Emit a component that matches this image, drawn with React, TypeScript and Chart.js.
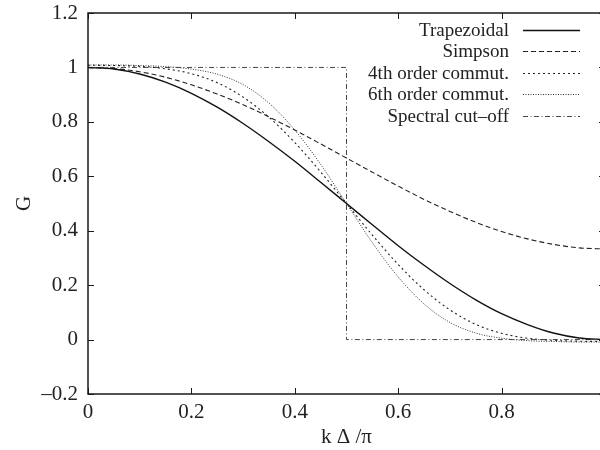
import React, { useEffect, useRef } from "react";
import { Chart, registerables } from "chart.js";

Chart.register(...registerables);

// ---- data ----
const kValues = [0, 0.05, 0.1, 0.15, 0.2, 0.25, 0.3, 0.35, 0.4, 0.45, 0.5, 0.55, 0.6, 0.65, 0.7, 0.75, 0.8, 0.85, 0.9, 0.95, 1];
const trapezoidal = [1, 0.994, 0.976, 0.946, 0.905, 0.854, 0.794, 0.727, 0.655, 0.578, 0.5, 0.422, 0.345, 0.273, 0.206, 0.146, 0.095, 0.055, 0.024, 0.006, 0];
const simpson = [1, 0.996, 0.984, 0.964, 0.936, 0.902, 0.863, 0.818, 0.770, 0.719, 0.667, 0.615, 0.564, 0.515, 0.471, 0.431, 0.397, 0.370, 0.350, 0.337, 0.333];
const commut4 = [1.008, 1.007, 1.004, 0.995, 0.977, 0.944, 0.891, 0.817, 0.724, 0.616, 0.5, 0.384, 0.276, 0.183, 0.109, 0.056, 0.023, 0.005, -0.003, -0.006, -0.007];
const commut6 = [1.009, 1.009, 1.007, 1.003, 0.994, 0.975, 0.937, 0.869, 0.770, 0.644, 0.5, 0.356, 0.230, 0.131, 0.063, 0.024, 0.005, -0.004, -0.007, -0.009, -0.009];
const cutoffK = [0, 0.5, 0.5, 1];
const cutoffG = [1, 1, 0, 0];

const seriesNames = ["Trapezoidal", "Simpson", "4th order commut.", "6th order commut.", "Spectral cut\u2013off"];

const xTicks = [0, 0.2, 0.4, 0.6, 0.8, 1];
const xTickLabels = ["0", "0.2", "0.4", "0.6", "0.8", "1"];
const yTicks = [-0.2, 0, 0.2, 0.4, 0.6, 0.8, 1, 1.2];
const yTickLabels = ["\u20130.2", "0", "0.2", "0.4", "0.6", "0.8", "1", "1.2"];

const FONT = "'Liberation Serif', 'DejaVu Serif', serif";

const framePlugin = {
  id: "gnuFrame",
  afterDatasetsDraw(chart: any) {
    const { ctx, chartArea: a, scales } = chart;
    const x = scales.x;
    const y = scales.y;
    ctx.save();
    ctx.strokeStyle = "#1a1a1a";
    ctx.lineWidth = 1.5;
    ctx.strokeRect(a.left, a.top, a.right - a.left, a.bottom - a.top);
    ctx.lineWidth = 1;
    const L = 6;
    ctx.beginPath();
    xTicks.forEach((v) => {
      const px = Math.round(x.getPixelForValue(v)) + 0.5;
      ctx.moveTo(px, a.bottom);
      ctx.lineTo(px, a.bottom - L);
      ctx.moveTo(px, a.top);
      ctx.lineTo(px, a.top + L);
    });
    yTicks.forEach((v) => {
      const py = Math.round(y.getPixelForValue(v)) + 0.5;
      ctx.moveTo(a.left, py);
      ctx.lineTo(a.left + L, py);
      ctx.moveTo(a.right, py);
      ctx.lineTo(a.right - L, py);
    });
    ctx.stroke();

    // key (gnuplot style: text right-aligned, sample line to the right)
    const textRight = 509;
    const lineStart = 523;
    const lineEnd = 580;
    const rowTop = 30;
    const rowStep = 21.4;
    ctx.font = `19px ${FONT}`;
    ctx.textAlign = "right";
    ctx.textBaseline = "middle";
    chart.data.datasets.forEach((ds: any, i: number) => {
      const ry = rowTop + i * rowStep;
      ctx.fillStyle = "#222";
      ctx.fillText(seriesNames[i], textRight, ry + 1);
      ctx.save();
      ctx.strokeStyle = ds.borderColor;
      ctx.lineWidth = ds.borderWidth;
      ctx.setLineDash(ds.borderDash || []);
      ctx.beginPath();
      ctx.moveTo(lineStart, Math.round(ry) + 0.5);
      ctx.lineTo(lineEnd, Math.round(ry) + 0.5);
      ctx.stroke();
      ctx.restore();
    });
    ctx.restore();
  },
};

export default function App() {
  const canvasRef = useRef<HTMLCanvasElement | null>(null);

  useEffect(() => {
    const canvas = canvasRef.current;
    if (!canvas) return;
    const toPts = (xs: number[], ys: number[]) => xs.map((k, i) => ({ x: k, y: ys[i] }));
    const chart = new Chart(canvas, {
      type: "line",
      data: {
        datasets: [
          {
            label: seriesNames[0],
            data: toPts(kValues, trapezoidal),
            borderColor: "#111",
            borderWidth: 1.4,
            borderDash: [],
            pointRadius: 0,
            cubicInterpolationMode: "monotone",
          },
          {
            label: seriesNames[1],
            data: toPts(kValues, simpson),
            borderColor: "#222",
            borderWidth: 1.1,
            borderDash: [5, 3],
            pointRadius: 0,
            cubicInterpolationMode: "monotone",
          },
          {
            label: seriesNames[2],
            data: toPts(kValues, commut4),
            borderColor: "#222",
            borderWidth: 1.1,
            borderDash: [2, 3],
            pointRadius: 0,
            cubicInterpolationMode: "monotone",
          },
          {
            label: seriesNames[3],
            data: toPts(kValues, commut6),
            borderColor: "#333",
            borderWidth: 1,
            borderDash: [1, 1.5],
            pointRadius: 0,
            cubicInterpolationMode: "monotone",
          },
          {
            label: seriesNames[4],
            data: toPts(cutoffK, cutoffG),
            borderColor: "#444",
            borderWidth: 1,
            borderDash: [5, 2.5, 1, 2.5],
            pointRadius: 0,
            tension: 0,
          },
        ] as any,
      },
      options: {
        responsive: false,
        animation: false,
        devicePixelRatio: 1,
        parsing: false as any,
        layout: { padding: { left: 0, right: 15, top: 13, bottom: 0 } },
        plugins: { legend: { display: false }, tooltip: { enabled: false } },
        scales: {
          x: {
            type: "linear",
            min: 0,
            max: 1,
            grid: { display: false, drawTicks: false },
            border: { display: false },
            afterBuildTicks: (s: any) => {
              s.ticks = xTicks.map((v) => ({ value: v }));
            },
            afterFit: (s: any) => {
              s.height = 56;
              s.paddingLeft = 0;
              s.paddingRight = 0;
            },
            ticks: {
              color: "#222",
              padding: 6,
              maxRotation: 0,
              font: { family: FONT, size: 21 },
              callback: (_v: any, i: number) => xTickLabels[i],
            },
            title: {
              display: true,
              text: "k \u0394 /\u03c0",
              color: "#222",
              font: { family: FONT, size: 21 },
              padding: { top: 0, bottom: 0 },
            },
          },
          y: {
            type: "linear",
            min: -0.2,
            max: 1.2,
            grid: { display: false, drawTicks: false },
            border: { display: false },
            afterBuildTicks: (s: any) => {
              s.ticks = yTicks.map((v) => ({ value: v }));
            },
            afterFit: (s: any) => {
              s.width = 88;
              s.paddingTop = 0;
              s.paddingBottom = 0;
            },
            ticks: {
              color: "#222",
              padding: 10,
              font: { family: FONT, size: 21 },
              callback: (_v: any, i: number) => yTickLabels[i],
            },
            title: {
              display: true,
              text: "G",
              color: "#222",
              font: { family: FONT, size: 21 },
              padding: { top: 12, bottom: 0 },
            },
          },
        },
      } as any,
      plugins: [framePlugin],
    });
    return () => chart.destroy();
  }, []);

  return (
    <div
      style={{
        position: "fixed",
        left: 0,
        top: 0,
        width: 600,
        height: 450,
        overflow: "hidden",
        background: "#fff",
      }}
    >
      <canvas ref={canvasRef} width={620} height={450} style={{ width: 620, height: 450, display: "block" }} />
    </div>
  );
}
